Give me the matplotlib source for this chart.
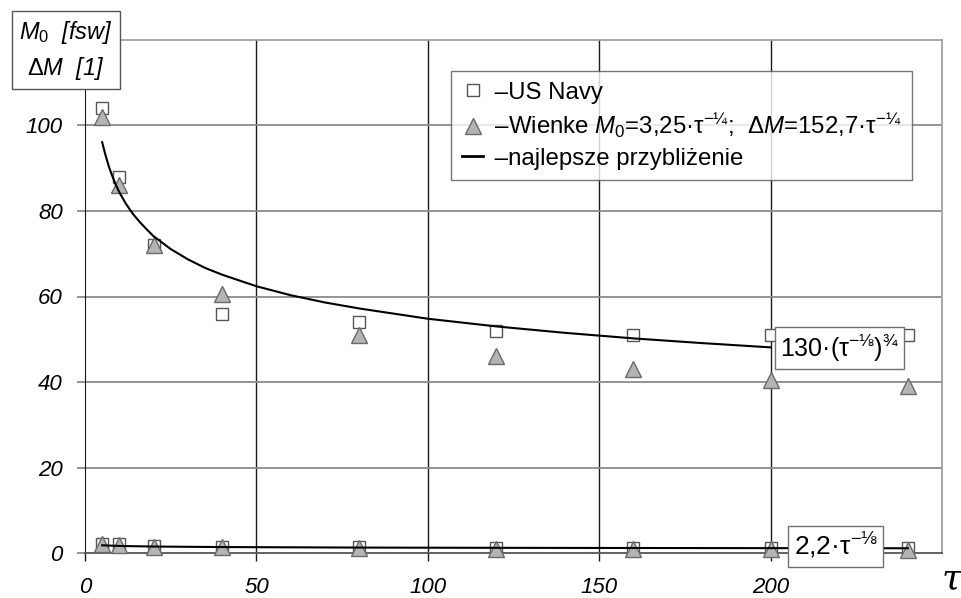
import matplotlib
matplotlib.use("Agg")
import matplotlib.pyplot as plt
from matplotlib.lines import Line2D

plt.rcParams['font.family'] = ['Liberation Sans', 'DejaVu Sans']
plt.rcParams['mathtext.fontset'] = 'custom'
plt.rcParams['mathtext.rm'] = 'Liberation Sans'
plt.rcParams['mathtext.it'] = 'Liberation Sans:italic'
plt.rcParams['mathtext.bf'] = 'Liberation Sans:bold'

# ---- data ----
tau = [5, 10, 20, 40, 80, 120, 160, 200, 240]
navy_M0 = [104, 88, 72, 56, 54, 52, 51, 51, 51]
wienke_M0 = [102, 86, 72, 60.5, 51, 46, 43, 40.5, 39]
navy_dM = [2.1, 2.0, 1.6, 1.5, 1.4, 1.2, 1.2, 1.1, 1.1]
wienke_dM = [2.2, 1.8, 1.5, 1.3, 1.1, 1.0, 0.9, 0.9, 0.8]

fit_tau = [5, 6, 7, 8, 9, 10, 12, 14, 16, 18, 20, 25, 30, 35, 40, 50, 60, 70, 80,
           100, 120, 140, 160, 180, 200]
fit_M0 = [96.1, 93.0, 90.3, 88.1, 86.1, 84.4, 81.6, 79.3, 77.4, 75.7, 74.1, 71.1,
          68.7, 66.7, 65.1, 62.4, 60.3, 58.6, 57.2, 54.8, 53.0, 51.5, 50.2, 49.1, 48.1]
fit_tau2 = [5, 10, 20, 40, 80, 120, 160, 200, 240]
fit_dM = [1.80, 1.65, 1.51, 1.39, 1.27, 1.21, 1.17, 1.14, 1.11]

xticks = [0, 50, 100, 150, 200]
yticks = [0, 20, 40, 60, 80, 100]

fig = plt.figure(figsize=(9.62, 5.98), dpi=100)
ax = fig.add_axes([85/962, 45/598, 857/962, 513/598])
ax.set_xlim(0, 250)
ax.set_ylim(0, 120)

# grid
for x in [50, 100, 150, 200]:
    ax.axvline(x, color='#1a1a1a', lw=1.0, zorder=1)
for y in [20, 40, 60, 80, 100]:
    ax.axhline(y, color='#8a8a8a', lw=1.3, zorder=1)

ax.set_xticks(xticks)
ax.set_yticks(yticks)
ax.set_xticklabels([str(v) for v in xticks], fontsize=16, style='italic')
ax.set_yticklabels([str(v) for v in yticks], fontsize=16, style='italic')
ax.tick_params(axis='x', direction='out', length=6, width=1, color='#1a1a1a', pad=11)
ax.tick_params(axis='y', direction='out', length=6, width=1.3, color='#8a8a8a', pad=10)
for s in ['top', 'right']:
    ax.spines[s].set_color('#a0a0a0')
    ax.spines[s].set_linewidth(1.3)
ax.spines['left'].set_color('#1a1a1a')
ax.spines['bottom'].set_color('#555555')
ax.spines['bottom'].set_linewidth(1.3)

sq = dict(marker='s', ms=9, mfc='white', mec='#555555', mew=1.0, ls='none')
tri = dict(marker='^', ms=11.5, mfc='#b4b4b4', mec='#6a6a6a', mew=1.0, ls='none')

ax.plot(tau, navy_M0, zorder=3, clip_on=False, **sq)
ax.plot(tau, navy_dM, zorder=3, clip_on=False, **sq)
ax.plot(tau, wienke_M0, zorder=4, clip_on=False, **tri)
ax.plot(tau, wienke_dM, zorder=4, clip_on=False, **tri)
ax.plot(fit_tau, fit_M0, color='black', lw=1.5, zorder=5)
ax.plot(fit_tau2, fit_dM, color='black', lw=1.5, zorder=5)

# annotations
ax.text(220, 48, r"130·(τ$^{-⅛}$)$^{¾}$", fontsize=18, ha='center', va='center', zorder=6,
        bbox=dict(boxstyle='square,pad=0.2', fc='white', ec='#707070', lw=1.0))
ax.text(219, 1.6, r"2,2·τ$^{-⅛}$", fontsize=19, ha='center', va='center', zorder=6, clip_on=False,
        bbox=dict(boxstyle='square,pad=0.2', fc='white', ec='#707070', lw=1.0))

# legend
handles = [
    Line2D([], [], **sq),
    Line2D([], [], **tri),
    Line2D([], [], color='black', lw=2),
]
labels = [
    " –US Navy",
    r" –Wienke $M_0$=3,25·τ$^{-¼}$;  $ΔM$=152,7·τ$^{-¼}$",
    " –najlepsze przybliżenie",
]
leg = ax.legend(handles, labels, loc='upper left', bbox_to_anchor=(0.427, 0.94),
                fontsize=17.3, frameon=True, fancybox=False, handlelength=0.9,
                handletextpad=0.2, borderpad=0.45, labelspacing=0.3, borderaxespad=0)
leg.get_frame().set_edgecolor('#555555')
leg.get_frame().set_linewidth(1.0)
leg.set_zorder(10)

# y label box
fig.text(66/962, 1 - 50/598, "$M_0$  [fsw]\n$ΔM$  [1]", fontsize=17, style='italic',
         ha='center', va='center', linespacing=1.45,
         bbox=dict(boxstyle='square,pad=0.3', fc='white', ec='#555555', lw=1.0))

# x label
fig.text(952/962, 1 - 578/598, "τ", fontsize=26, style='italic', family='DejaVu Serif',
         ha='center', va='center')

fig.savefig("out.png", dpi=100)
